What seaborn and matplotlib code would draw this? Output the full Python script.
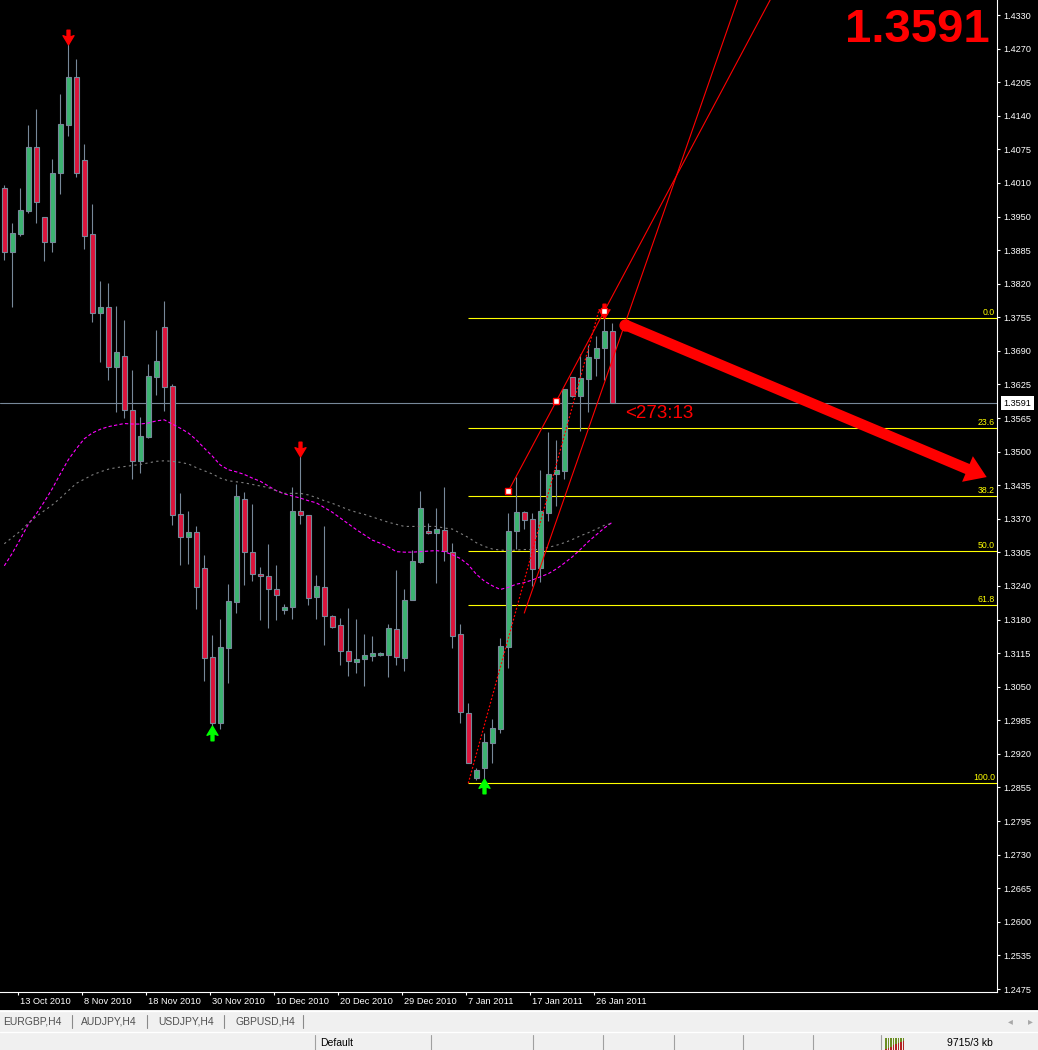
import matplotlib
matplotlib.use('Agg')
import matplotlib.pyplot as plt
import matplotlib.transforms as mtransforms
from matplotlib.lines import Line2D
from matplotlib.patches import Rectangle
from matplotlib.path import Path
import numpy as np
import pandas as pd
import seaborn as sns

# bars (oldest -> newest)
opens = [1.4000, 1.3879, 1.3913, 1.3957, 1.4078, 1.3945, 1.3897, 1.4030, 1.4121, 1.4211,
         1.4053, 1.3912, 1.3763, 1.3773, 1.3660, 1.3681, 1.3577, 1.3481, 1.3527, 1.3641,
         1.3735, 1.3623, 1.3379, 1.3335, 1.3345, 1.3276, 1.3107, 1.2981, 1.3124, 1.3212,
         1.3408, 1.3308, 1.3265, 1.3262, 1.3236, 1.3197, 1.3203, 1.3386, 1.3377, 1.3222,
         1.3240, 1.3186, 1.3168, 1.3119, 1.3097, 1.3103, 1.3109, 1.3112, 1.3111, 1.3161,
         1.3106, 1.3216, 1.3289, 1.3347, 1.3343, 1.3349, 1.3308, 1.3151, 1.3001, 1.2876,
         1.2895, 1.2944, 1.2971, 1.3127, 1.3348, 1.3383, 1.3370, 1.3276, 1.3382, 1.3455,
         1.3462, 1.3640, 1.3605, 1.3637, 1.3677, 1.3696, 1.3728]
highs = [1.4006, 1.3933, 1.4000, 1.4121, 1.4151, 1.3946, 1.4055, 1.4180, 1.4276, 1.4246,
         1.4084, 1.3971, 1.3823, 1.3819, 1.3776, 1.3749, 1.3654, 1.3564, 1.3665, 1.3730,
         1.3785, 1.3627, 1.3419, 1.3385, 1.3356, 1.3302, 1.3149, 1.3179, 1.3246, 1.3437,
         1.3421, 1.3399, 1.3278, 1.3322, 1.3283, 1.3208, 1.3431, 1.3491, 1.3378, 1.3264,
         1.3357, 1.3187, 1.3181, 1.3200, 1.3179, 1.3151, 1.3147, 1.3116, 1.3170, 1.3273,
         1.3237, 1.3312, 1.3424, 1.3362, 1.3392, 1.3431, 1.3324, 1.3170, 1.3019, 1.2895,
         1.2962, 1.2989, 1.3143, 1.3382, 1.3451, 1.3386, 1.3382, 1.3463, 1.3536, 1.3521,
         1.3618, 1.3641, 1.3684, 1.3702, 1.3719, 1.3753, 1.3744]
lows = [1.3863, 1.3773, 1.3910, 1.3952, 1.3934, 1.3862, 1.3879, 1.3989, 1.4100, 1.4022,
        1.3884, 1.3746, 1.3670, 1.3635, 1.3573, 1.3562, 1.3446, 1.3458, 1.3525, 1.3606,
        1.3575, 1.3359, 1.3283, 1.3284, 1.3199, 1.3062, 1.2975, 1.2970, 1.3058, 1.3192,
        1.3245, 1.3253, 1.3178, 1.3163, 1.3178, 1.3189, 1.3180, 1.3361, 1.3206, 1.3180,
        1.3130, 1.3162, 1.3092, 1.3071, 1.3077, 1.3052, 1.3100, 1.3109, 1.3070, 1.3093,
        1.3081, 1.3215, 1.3286, 1.3342, 1.3249, 1.3291, 1.3125, 1.2982, 1.2905, 1.2873,
        1.2874, 1.2905, 1.2962, 1.3087, 1.3313, 1.3352, 1.3243, 1.3251, 1.3367, 1.3394,
        1.3446, 1.3603, 1.3538, 1.3573, 1.3643, 1.3635, 1.3591]
closes = [1.3879, 1.3914, 1.3959, 1.4078, 1.3974, 1.3897, 1.4030, 1.4122, 1.4211, 1.4030,
          1.3910, 1.3762, 1.3773, 1.3660, 1.3689, 1.3577, 1.3481, 1.3528, 1.3643, 1.3671,
          1.3622, 1.3377, 1.3335, 1.3345, 1.3240, 1.3105, 1.2981, 1.3126, 1.3214, 1.3413,
          1.3308, 1.3265, 1.3262, 1.3236, 1.3225, 1.3202, 1.3386, 1.3377, 1.3219, 1.3243,
          1.3186, 1.3165, 1.3119, 1.3100, 1.3104, 1.3111, 1.3114, 1.3114, 1.3162, 1.3108,
          1.3216, 1.3290, 1.3391, 1.3343, 1.3351, 1.3309, 1.3148, 1.3002, 1.2906, 1.2892,
          1.2945, 1.2973, 1.3128, 1.3347, 1.3383, 1.3368, 1.3274, 1.3386, 1.3456, 1.3463,
          1.3618, 1.3605, 1.3639, 1.3678, 1.3695, 1.3728, 1.3591]

# moving averages (fast = magenta, slow = grey)
ma_fast = [1.3281, 1.3305, 1.3332, 1.3360, 1.3380, 1.3403, 1.3428, 1.3456, 1.3483, 1.3504,
           1.3523, 1.3534, 1.3541, 1.3546, 1.3549, 1.3552, 1.3551, 1.3551, 1.3553, 1.3557,
           1.3559, 1.3551, 1.3543, 1.3534, 1.3521, 1.3505, 1.3490, 1.3473, 1.3464, 1.3460,
           1.3455, 1.3448, 1.3442, 1.3433, 1.3424, 1.3418, 1.3414, 1.3410, 1.3405, 1.3401,
           1.3392, 1.3383, 1.3372, 1.3361, 1.3350, 1.3340, 1.3330, 1.3324, 1.3317, 1.3308,
           1.3307, 1.3307, 1.3308, 1.3309, 1.3310, 1.3308, 1.3302, 1.3295, 1.3283, 1.3265,
           1.3252, 1.3243, 1.3236, 1.3240, 1.3246, 1.3249, 1.3254, 1.3260, 1.3266, 1.3275,
           1.3286, 1.3298, 1.3312, 1.3327, 1.3340, 1.3353, 1.3364]
ma_slow = [1.3323, 1.3335, 1.3347, 1.3362, 1.3375, 1.3386, 1.3397, 1.3410, 1.3424, 1.3438,
           1.3446, 1.3454, 1.3460, 1.3465, 1.3468, 1.3470, 1.3472, 1.3474, 1.3477, 1.3480,
           1.3481, 1.3480, 1.3478, 1.3475, 1.3468, 1.3462, 1.3456, 1.3448, 1.3443, 1.3441,
           1.3439, 1.3436, 1.3433, 1.3430, 1.3424, 1.3419, 1.3419, 1.3419, 1.3416, 1.3411,
           1.3405, 1.3400, 1.3394, 1.3388, 1.3383, 1.3379, 1.3374, 1.3369, 1.3364, 1.3360,
           1.3356, 1.3356, 1.3356, 1.3356, 1.3356, 1.3353, 1.3351, 1.3343, 1.3335, 1.3325,
           1.3318, 1.3313, 1.3311, 1.3310, 1.3311, 1.3312, 1.3312, 1.3312, 1.3316, 1.3320,
           1.3325, 1.3331, 1.3338, 1.3344, 1.3351, 1.3358, 1.3362]

price_labels = ['1.4330', '1.4270', '1.4205', '1.4140', '1.4075', '1.4010', '1.3950', '1.3885',
                '1.3820', '1.3755', '1.3690', '1.3625', '1.3565', '1.3500', '1.3435', '1.3370',
                '1.3305', '1.3240', '1.3180', '1.3115', '1.3050', '1.2985', '1.2920', '1.2855',
                '1.2795', '1.2730', '1.2665', '1.2600', '1.2535', '1.2475']
date_labels = ['13 Oct 2010', '8 Nov 2010', '18 Nov 2010', '30 Nov 2010', '10 Dec 2010',
               '20 Dec 2010', '29 Dec 2010', '7 Jan 2011', '17 Jan 2011', '26 Jan 2011']
date_bars = [2, 10, 18, 26, 34, 42, 50, 58, 66, 74]

fib_names = ['0.0', '23.6', '38.2', '50.0', '61.8', '100.0']
fib_ratios = [0.0, 0.236, 0.382, 0.5, 0.618, 1.0]
fib_high = 1.3753
fib_low = 1.2867
fib_start_bar = 58

current_price = 1.3591
timer_text = '<273:13'

fractal_down_bars = [8, 37, 75]
fractal_up_bars = [26, 60]

# hand drawn objects on the chart
channel_upper = [(63, 1.3423), (75, 1.3766)]
channel_lower = [(65, 1.3191), (79, 1.3804)]
swing_line = [(58, 1.2867), (74.3, 1.3766)]
channel_points = [(63, 1.3423), (69, 1.3594), (75, 1.3766)]
forecast_arrow = [(77.6, 1.3740), (122.8, 1.3450)]
timer_pos = (77.6, 1.3563)

tabs = ['EURGBP,H4', 'AUDJPY,H4', 'USDJPY,H4', 'GBPUSD,H4']
status_profile = 'Default'
status_traffic = '9715/3 kb'

df = pd.DataFrame({'bar': np.arange(len(opens)), 'open': opens, 'high': highs,
                   'low': lows, 'close': closes, 'ma_fast': ma_fast, 'ma_slow': ma_slow})

sns.set_theme(style='dark', rc={'axes.facecolor': 'black', 'figure.facecolor': 'black'})
plt.rcParams['font.family'] = ['Liberation Sans', 'DejaVu Sans']

W, H = 1038, 1050
fx = lambda x: x / W
fy = lambda y: 1 - y / H

fig = plt.figure(figsize=(W / 100, H / 100), dpi=100, facecolor='black')
ax = fig.add_axes([0, fy(992), fx(997), 992 / H])
ax.set_facecolor('black')
ax.set_xlim(-0.5375, 124.09)
ax.set_ylim(1.24693, 1.43586)

GREY = '#778899'
RED = '#ff0000'

# current price line and fibonacci levels
ax.axhline(current_price, color=GREY, lw=0.8, zorder=1)
fib_levels = [fib_high - r * (fib_high - fib_low) for r in fib_ratios]
ax.hlines(fib_levels, fib_start_bar, 124.09, color='#ffff00', lw=0.8, zorder=2)
for name, lvl in zip(fib_names, fib_levels):
    ax.text(123.84, lvl + 0.0002, name, color='#ffff00', fontsize=6.3, ha='right', va='bottom', zorder=3)

# candles
up = df['close'] >= df['open']
ax.vlines(df['bar'], df['low'], df['high'], color=GREY, lw=0.8, zorder=3)
ax.bar(df['bar'], (df['close'] - df['open']).abs().clip(lower=0.00004),
       bottom=df[['open', 'close']].min(axis=1), width=0.64,
       color=np.where(up, '#3cb371', '#dc143c'), edgecolor=GREY, linewidth=0.8, zorder=4)

# moving averages
sns.lineplot(data=df, x='bar', y='ma_fast', ax=ax, color='#ff00ff', lw=0.8,
             linestyle=(0, (3, 2)), zorder=5)
sns.lineplot(data=df, x='bar', y='ma_slow', ax=ax, color='#808080', lw=0.8,
             linestyle=(0, (2, 3)), zorder=5)

# fractal arrows
down_arrow = Path([(-0.2, 1), (0.2, 1), (0.2, 0.05), (0.75, 0.25), (0, -1),
                   (-0.75, 0.25), (-0.2, 0.05), (-0.2, 1)], closed=True)
up_arrow = Path([(x, -y) for x, y in down_arrow.vertices], closed=True)
off = 0.0013
ax.plot(fractal_down_bars, [highs[b] + off for b in fractal_down_bars], ls='none',
        marker=down_arrow, ms=10.5, color=RED, mec=RED, zorder=7)
ax.plot(fractal_up_bars, [lows[b] - off for b in fractal_up_bars], ls='none',
        marker=up_arrow, ms=10.5, color='#00ff00', mec='#00ff00', zorder=7)

# channel and swing lines
def extended(a, b, x_end):
    slope = (b[1] - a[1]) / (b[0] - a[0])
    return [a[0], x_end], [a[1], a[1] + slope * (x_end - a[0])]

for line in (channel_upper, channel_lower):
    xs, ys = extended(line[0], line[1], 110)
    ax.plot(xs, ys, color=RED, lw=0.8, zorder=6)
ax.plot([p[0] for p in swing_line], [p[1] for p in swing_line], color=RED, lw=0.9,
        ls=(0, (1.5, 1.5)), zorder=6)
ax.plot([p[0] for p in channel_points], [p[1] for p in channel_points], ls='none',
        marker='s', ms=4, mfc='white', mec=RED, mew=1, zorder=8)

# forecast arrow
(ax0, ay0), (ax1, ay1) = forecast_arrow
ax.plot([ax0], [ay0], marker='o', ms=7.8, color=RED, zorder=8)
ax.annotate('', xy=(ax1, ay1), xytext=(ax0, ay0),
            arrowprops=dict(arrowstyle='simple,head_length=0.75,head_width=1.0,tail_width=0.39',
                            mutation_scale=20, color=RED, lw=0, shrinkA=0, shrinkB=0),
            zorder=8)

ax.text(timer_pos[0], timer_pos[1], timer_text, color=RED, fontsize=13.5, ha='left',
        va='baseline', zorder=9)
fig.text(fx(990), fy(42), f'{current_price:.4f}', color=RED, fontsize=34, weight='bold',
         ha='right', va='baseline')

# axes / ticks
for side in ('left', 'top'):
    ax.spines[side].set_visible(False)
for side in ('right', 'bottom'):
    ax.spines[side].set_visible(True)
    ax.spines[side].set_color('white')
    ax.spines[side].set_linewidth(0.8)
ax.yaxis.tick_right()
ax.set_yticks(np.linspace(float(price_labels[0]), float(price_labels[-1]), len(price_labels)))
ax.set_yticklabels(price_labels)
ax.tick_params(axis='y', colors='white', length=2.5, width=0.8, pad=2, labelsize=6.6,
               right=True, left=False)
ax.set_xticks([b - 0.25 for b in date_bars])
ax.set_xticklabels([])
ax.tick_params(axis='x', colors='white', length=2.5, width=0.8, bottom=True)
ax.set_xlabel('')
ax.set_ylabel('')
ax.grid(False)

xt = mtransforms.blended_transform_factory(ax.transData, ax.transAxes)
for b, lab in zip(date_bars, date_labels):
    ax.text(b, -0.0095, lab, transform=xt, color='white', fontsize=6.7, ha='left', va='center',
            clip_on=False)

yt = mtransforms.blended_transform_factory(ax.transAxes, ax.transData)
ax.text(1.0065, current_price, f'{current_price:.4f}', transform=yt, color='black', fontsize=6.6,
        ha='left', va='center', clip_on=False, zorder=10,
        bbox=dict(boxstyle='square,pad=0.3', fc='white', ec='none'))

# terminal tab bar and status bar
def rect(x0, y0, x1, y1, color):
    fig.patches.append(Rectangle((fx(x0), fy(y1)), fx(x1) - fx(x0), fy(y0) - fy(y1),
                                 transform=fig.transFigure, fc=color, ec='none'))

def line(x0, y0, x1, y1, color, lw=0.8):
    fig.add_artist(Line2D([fx(x0), fx(x1)], [fy(y0), fy(y1)], color=color, lw=lw))

rect(0, 1010, W, H, '#f0f0f0')
line(0, 1010.5, W, 1010.5, 'white', 1.0)
line(0, 1031.5, W, 1031.5, 'white', 1.0)
tab_x = [3, 81, 158, 235]
tab_sep = [71.5, 147, 224, 303]
for x, name in zip(tab_x, tabs):
    fig.text(fx(x), fy(1021), name, color='#505050', fontsize=7.5, ha='left', va='center')
for x in tab_sep:
    line(x, 1015, x, 1028, '#8a8a8a')
fig.text(fx(1010), fy(1021), '◂', color='#a8a8a8', fontsize=7, ha='center', va='center',
         family='DejaVu Sans')
fig.text(fx(1030), fy(1021), '▸', color='#a8a8a8', fontsize=7, ha='center', va='center',
         family='DejaVu Sans')

for x in [314.5, 430.5, 533, 602.5, 674, 743, 812.5, 880.5]:
    line(x, 1035, x, H, '#a0a0a0')
fig.text(fx(320), fy(1043), status_profile, color='black', fontsize=7.5, ha='left', va='center')
fig.text(fx(947), fy(1043), status_traffic, color='black', fontsize=7.5, ha='left', va='center')
for k in range(8):
    x0 = 885 + k * 2.5
    rect(x0, 1038, x0 + 1.5, 1050, '#6b8e23')
    rect(x0, 1049 - k * 1.2, x0 + 1.5, 1050, '#b22222')

fig.savefig('out.png', dpi=100, facecolor='black')
